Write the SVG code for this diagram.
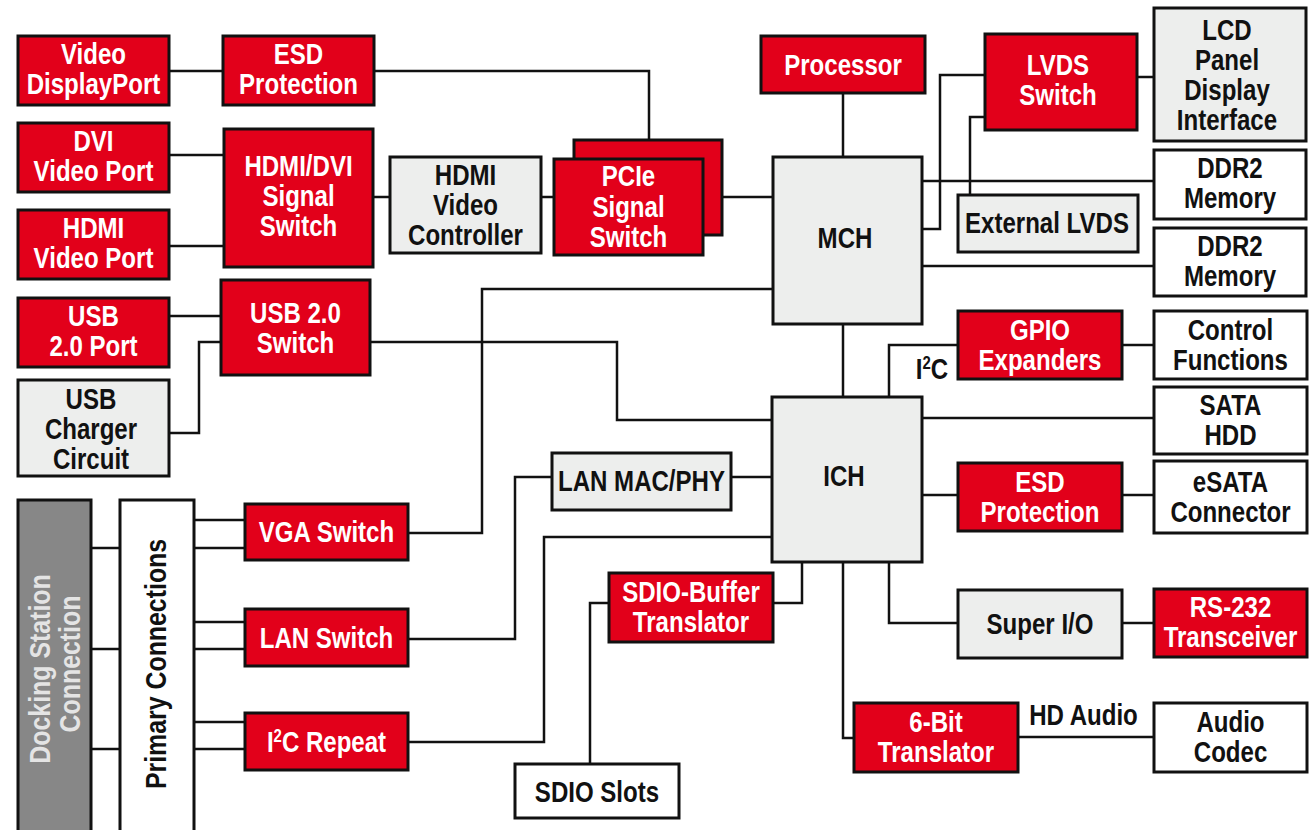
<svg xmlns="http://www.w3.org/2000/svg" width="1310" height="830" viewBox="0 0 1310 830">
<style>
.r{fill:#e2001a;stroke:#111;stroke-width:3}
.g{fill:#edeeed;stroke:#111;stroke-width:3}
.w{fill:#fff;stroke:#111;stroke-width:3}
.d{fill:#878787;stroke:#111;stroke-width:3}
text{font-family:"Liberation Sans",Arial,sans-serif;font-weight:bold;font-size:29px;text-anchor:middle;transform-box:fill-box;transform-origin:center;transform:scaleX(.83)}
.tw{fill:#fff}
.tb{fill:#111}
.tl{fill:#e4e4e4}
.big{font-size:30px}
#connectors path{fill:none;stroke:#111;stroke-width:2.5}
</style>
<rect width="1310" height="830" fill="#fff"/>
<g id="connectors">
<path d="M170 71H222"/>
<path d="M375 71H649V139"/>
<path d="M170 155H223"/>
<path d="M170 246H223"/>
<path d="M374 197H389"/>
<path d="M542 197H553"/>
<path d="M723 197H772"/>
<path d="M843 94V156"/>
<path d="M923 229H940V75H984"/>
<path d="M970 194V117H984"/>
<path d="M1138 77H1153"/>
<path d="M923 181H1153"/>
<path d="M923 266H1153"/>
<path d="M843 325V396"/>
<path d="M889 396V345H957"/>
<path d="M1123 345H1153"/>
<path d="M923 418H1153"/>
<path d="M923 495H957"/>
<path d="M1123 495H1153"/>
<path d="M889 563V623H957"/>
<path d="M1123 623H1153"/>
<path d="M843 563V738H853"/>
<path d="M1019 737H1153"/>
<path d="M170 316H220"/>
<path d="M170 433H199V342H220"/>
<path d="M371 342H617V420H771"/>
<path d="M409 533H482V289H772"/>
<path d="M409 639H515V477H551"/>
<path d="M732 477H771"/>
<path d="M409 742H544V537H771"/>
<path d="M774 603H802V563"/>
<path d="M608 603H590V763"/>
<path d="M92 548H119M92 649H119M92 749H119"/>
<path d="M195 520H244M195 548H244"/>
<path d="M195 622H244M195 649H244"/>
<path d="M195 722H244M195 749H244"/>
</g>
<g id="video-dp"><rect class="r" x="18" y="36" width="151" height="69"/><text class="tw" x="93.5" y="64">Video</text><text class="tw" x="93.5" y="94">DisplayPort</text></g>
<g id="esd-top"><rect class="r" x="223" y="36" width="151" height="69"/><text class="tw" x="298.5" y="64">ESD</text><text class="tw" x="298.5" y="94">Protection</text></g>
<g id="dvi"><rect class="r" x="18" y="123" width="151" height="69"/><text class="tw" x="93.5" y="151">DVI</text><text class="tw" x="93.5" y="181">Video Port</text></g>
<g id="hdmi-port"><rect class="r" x="18" y="210" width="151" height="69"/><text class="tw" x="93.5" y="238">HDMI</text><text class="tw" x="93.5" y="268">Video Port</text></g>
<g id="hdmi-dvi-switch"><rect class="r" x="224" y="129" width="149" height="138"/><text class="tw" x="298.5" y="176">HDMI/DVI</text><text class="tw" x="298.5" y="206">Signal</text><text class="tw" x="298.5" y="236">Switch</text></g>
<g id="hdmi-vc"><rect class="g" x="390" y="157" width="151" height="96"/><text class="tb" x="465.5" y="185">HDMI</text><text class="tb" x="465.5" y="215">Video</text><text class="tb" x="465.5" y="245">Controller</text></g>
<g id="pcie"><rect class="r" x="574" y="140" width="148" height="95"/><rect class="r" x="554" y="159" width="149" height="96"/><text class="tw" x="628.5" y="186">PCIe</text><text class="tw" x="628.5" y="217">Signal</text><text class="tw" x="628.5" y="247">Switch</text></g>
<g id="processor"><rect class="r" x="761" y="36" width="164" height="57"/><text class="tw" x="843" y="75">Processor</text></g>
<g id="mch"><rect class="g" x="773" y="157" width="149" height="167"/><text class="tb" x="845" y="248">MCH</text></g>
<g id="lvds-switch"><rect class="r" x="985" y="34" width="152" height="96"/><text class="tw" x="1058" y="75">LVDS</text><text class="tw" x="1058" y="105">Switch</text></g>
<g id="lcd"><rect class="g" x="1154" y="8" width="152" height="133"/><text class="tb" x="1227" y="40">LCD</text><text class="tb" x="1227" y="70">Panel</text><text class="tb" x="1227" y="100">Display</text><text class="tb" x="1227" y="130">Interface</text></g>
<g id="ext-lvds"><rect class="g" x="958" y="195" width="180" height="57"/><text class="tb" x="1047" y="233">External LVDS</text></g>
<g id="ddr2-1"><rect class="w" x="1154" y="150" width="152" height="69"/><text class="tb" x="1230" y="178">DDR2</text><text class="tb" x="1230" y="208">Memory</text></g>
<g id="ddr2-2"><rect class="w" x="1154" y="228" width="152" height="68"/><text class="tb" x="1230" y="256">DDR2</text><text class="tb" x="1230" y="286">Memory</text></g>
<g id="usb-port"><rect class="r" x="18" y="298" width="151" height="69"/><text class="tw" x="93.5" y="326">USB</text><text class="tw" x="93.5" y="356">2.0 Port</text></g>
<g id="usb-switch"><rect class="r" x="221" y="280" width="149" height="95"/><text class="tw" x="295.5" y="323">USB 2.0</text><text class="tw" x="295.5" y="353">Switch</text></g>
<g id="usb-charger"><rect class="g" x="18" y="380" width="151" height="96"/><text class="tb" x="91" y="409">USB</text><text class="tb" x="91" y="439">Charger</text><text class="tb" x="91" y="469">Circuit</text></g>
<g id="gpio"><rect class="r" x="958" y="311" width="164" height="68"/><text class="tw" x="1040" y="340">GPIO</text><text class="tw" x="1040" y="370">Expanders</text></g>
<text class="tb" x="932" y="379">I<tspan font-size="18" dy="-10">2</tspan><tspan dy="10">C</tspan></text>
<g id="control"><rect class="w" x="1154" y="311" width="153" height="68"/><text class="tb" x="1230.5" y="340">Control</text><text class="tb" x="1230.5" y="370">Functions</text></g>
<g id="ich"><rect class="g" x="772" y="397" width="150" height="165"/><text class="tb" x="844" y="486">ICH</text></g>
<g id="sata"><rect class="w" x="1154" y="387" width="153" height="67"/><text class="tb" x="1230.5" y="415">SATA</text><text class="tb" x="1230.5" y="445">HDD</text></g>
<g id="esd-right"><rect class="r" x="958" y="463" width="164" height="68"/><text class="tw" x="1040" y="492">ESD</text><text class="tw" x="1040" y="522">Protection</text></g>
<g id="esata"><rect class="w" x="1154" y="461" width="153" height="72"/><text class="tb" x="1230.5" y="492">eSATA</text><text class="tb" x="1230.5" y="522">Connector</text></g>
<g id="lan-mac"><rect class="g" x="552" y="453" width="179" height="57"/><text class="tb" x="641.5" y="491">LAN MAC/PHY</text></g>
<g id="super-io"><rect class="g" x="958" y="590" width="164" height="68"/><text class="tb" x="1040" y="634">Super I/O</text></g>
<g id="rs232"><rect class="r" x="1154" y="589" width="153" height="68"/><text class="tw" x="1230.5" y="617">RS-232</text><text class="tw" x="1230.5" y="647">Transceiver</text></g>
<g id="sdio-buffer"><rect class="r" x="609" y="573" width="164" height="69"/><text class="tw" x="691" y="602">SDIO-Buffer</text><text class="tw" x="691" y="632">Translator</text></g>
<g id="sdio-slots"><rect class="w" x="515" y="764" width="164" height="54"/><text class="tb" x="597" y="802">SDIO Slots</text></g>
<g id="six-bit"><rect class="r" x="854" y="703" width="164" height="69"/><text class="tw" x="936" y="732">6-Bit</text><text class="tw" x="936" y="762">Translator</text></g>
<text class="tb" x="1083.5" y="725">HD Audio</text>
<g id="audio-codec"><rect class="w" x="1154" y="703" width="153" height="69"/><text class="tb" x="1230.5" y="732">Audio</text><text class="tb" x="1230.5" y="762">Codec</text></g>
<g id="docking"><rect class="d" x="18" y="500" width="73" height="340"/><g transform="translate(50 669) rotate(-90)"><text class="tl big" x="0" y="0">Docking Station</text></g><g transform="translate(80 664) rotate(-90)"><text class="tl big" x="0" y="0">Connection</text></g></g>
<g id="primary"><rect class="w" x="120" y="500" width="74" height="340"/><g transform="translate(166 664) rotate(-90)"><text class="tb big" x="0" y="0">Primary Connections</text></g></g>
<g id="vga-switch"><rect class="r" x="245" y="504" width="163" height="56"/><text class="tw" x="326.5" y="542">VGA Switch</text></g>
<g id="lan-switch"><rect class="r" x="245" y="609" width="163" height="57"/><text class="tw" x="326.5" y="648">LAN Switch</text></g>
<g id="i2c-repeat"><rect class="r" x="245" y="713" width="163" height="57"/><text class="tw" x="326.5" y="752">I<tspan font-size="18" dy="-10">2</tspan><tspan dy="10">C Repeat</tspan></text></g>
</svg>
